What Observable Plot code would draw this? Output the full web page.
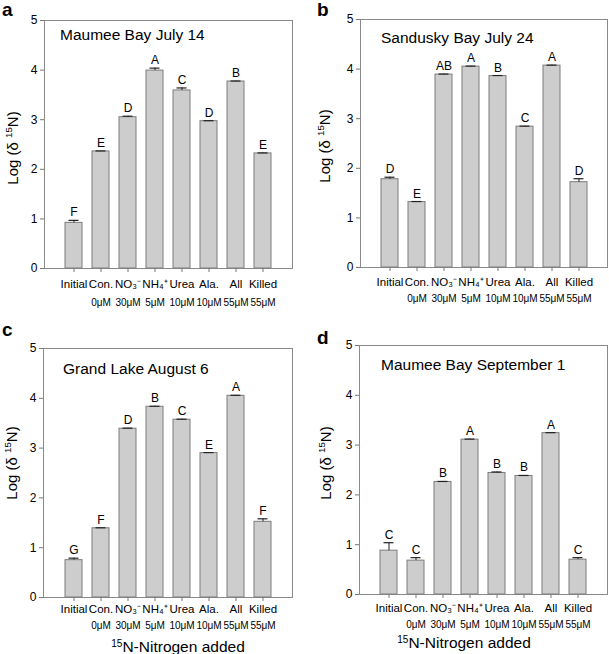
<!DOCTYPE html>
<html>
<head>
<meta charset="utf-8">
<script src="https://cdn.jsdelivr.net/npm/d3@7"></script>
<script src="https://cdn.jsdelivr.net/npm/@observablehq/plot@0.6"></script>
<style>
  html, body { margin: 0; padding: 0; background: #fff; }
  #root { position: relative; width: 609px; height: 654px; font-family: "Liberation Sans", Arial, sans-serif; color: #000; overflow: hidden; }
  .panel { position: absolute; }
  .letter { position: absolute; font-weight: bold; font-size: 19px; line-height: 1.05; }
  .title { position: absolute; font-size: 15.5px; line-height: 1; white-space: nowrap; }
  .ylab { position: absolute; font-size: 15px; white-space: nowrap; transform: translate(-50%, -50%) rotate(-90deg); line-height: 1; }
  .xlab { position: absolute; font-size: 15.5px; white-space: nowrap; transform: translate(-50%, -50%); line-height: 1; }
  sup { font-size: 0.65em; vertical-align: 0.55em; line-height: 0; }
</style>
</head>
<body>
<div id="root"></div>
<script>
const categories = ["Initial", "Con.", "NO₃⁻", "NH₄⁺", "Urea", "Ala.", "All", "Killed"];
const concentrations = ["", "0μM", "30μM", "5μM", "10μM", "10μM", "55μM", "55μM"];
const yTicks = [0, 1, 2, 3, 4, 5];

const valuesA = [0.92, 2.36, 3.05, 3.99, 3.59, 2.97, 3.77, 2.32];
const errorsA = [0.05, 0.01, 0.02, 0.05, 0.05, 0.01, 0.01, 0.01];
const lettersA = ["F", "E", "D", "A", "C", "D", "B", "E"];

const valuesB = [1.78, 1.32, 3.89, 4.05, 3.86, 2.84, 4.07, 1.72];
const errorsB = [0.04, 0.01, 0.01, 0.01, 0.01, 0.01, 0.01, 0.07];
const lettersB = ["D", "E", "AB", "A", "B", "C", "A", "D"];

const valuesC = [0.75, 1.39, 3.39, 3.83, 3.57, 2.90, 4.05, 1.52];
const errorsC = [0.04, 0.01, 0.01, 0.01, 0.01, 0.01, 0.01, 0.06];
const lettersC = ["G", "F", "D", "B", "C", "E", "A", "F"];

const valuesD = [0.88, 0.68, 2.26, 3.11, 2.44, 2.38, 3.24, 0.70];
const errorsD = [0.16, 0.06, 0.01, 0.01, 0.02, 0.01, 0.01, 0.04];
const lettersD = ["C", "C", "B", "A", "B", "B", "A", "C"];

const panels = [
  {letter: "a", title: "Maumee Bay July 14", values: valuesA, errors: errorsA, letters: lettersA,
   left: 0, top: 0, width: 305, height: 320, m: {l: 44, t: 20, r: 13, b: 52},
   letterPos: [2, 0], titlePos: [60, 27], ylabX: 12, ylabY: 148, line1: 16, line2: 34, xlab: false},
  {letter: "b", title: "Sandusky Bay July 24", values: valuesB, errors: errorsB, letters: lettersB,
   left: 305, top: 0, width: 304, height: 320, m: {l: 55, t: 19, r: 2, b: 53},
   letterPos: [12, 0], titlePos: [76, 30], ylabX: 19, ylabY: 146, line1: 15, line2: 31, xlab: false},
  {letter: "c", title: "Grand Lake August 6", values: valuesC, errors: errorsC, letters: lettersC,
   left: 0, top: 320, width: 305, height: 334, m: {l: 43, t: 28, r: 13, b: 57},
   letterPos: [2, 0], titlePos: [63, 41], ylabX: 11, ylabY: 143, line1: 12, line2: 28, xlab: true, xlabX: 178, xlabY: 327},
  {letter: "d", title: "Maumee Bay September 1", values: valuesD, errors: errorsD, letters: lettersD,
   left: 305, top: 320, width: 304, height: 334, m: {l: 54, t: 25, r: 2, b: 60},
   letterPos: [12, 8], titlePos: [76, 37], ylabX: 20, ylabY: 143, line1: 14, line2: 30, xlab: true, xlabX: 159, xlabY: 323}
];

const root = document.getElementById("root");

for (const p of panels) {
  const rows = categories.map((c, i) => ({
    cat: c, conc: concentrations[i], value: p.values[i], top: p.values[i] + p.errors[i], label: p.letters[i]
  }));
  const chart = Plot.plot({
    width: p.width,
    height: p.height,
    marginLeft: p.m.l, marginTop: p.m.t, marginRight: p.m.r, marginBottom: p.m.b,
    style: {fontFamily: '"Liberation Sans", Arial, sans-serif', fontSize: "12px", color: "#000", background: "transparent", overflow: "visible"},
    x: {type: "band", domain: categories, paddingInner: 0.385, paddingOuter: 0.7, label: null, axis: null},
    y: {domain: [0, 5], ticks: yTicks, label: null, axis: null},
    marks: [
      Plot.frame({stroke: "#8a8a8a", strokeWidth: 1}),
      Plot.barY(rows, {x: "cat", y: "value", fill: "#cdcdcd", stroke: "#7c7c7c", strokeWidth: 1}),
      Plot.ruleX(rows, {x: "cat", y1: "value", y2: "top", stroke: "#222", strokeWidth: 1}),
      Plot.tickY(rows, {x: "cat", y: "top", stroke: "#222", strokeWidth: 1.2, insetLeft: 3.5, insetRight: 3.5}),
      Plot.text(rows, {x: "cat", y: "top", text: "label", dy: -4, lineAnchor: "bottom", fontSize: 12, fill: "#000"}),
      Plot.axisY({ticks: yTicks, tickSize: 4, tickPadding: 3, stroke: "#777", label: null, tickFormat: (d) => String(d)}),
      Plot.axisX({tickSize: 4, stroke: "#777", label: null, tickFormat: () => ""}),
      Plot.text(rows, {x: "cat", text: "cat", frameAnchor: "bottom", dy: p.line1, lineAnchor: "middle", fontSize: 11.5, fill: "#000"}),
      Plot.text(rows, {x: "cat", text: "conc", frameAnchor: "bottom", dy: p.line2, lineAnchor: "middle", fontSize: 10, fill: "#000"})
    ]
  });

  const wrap = document.createElement("div");
  wrap.className = "panel";
  wrap.style.left = p.left + "px";
  wrap.style.top = p.top + "px";
  wrap.style.width = p.width + "px";
  wrap.style.height = p.height + "px";
  wrap.appendChild(chart);

  const letter = document.createElement("div");
  letter.className = "letter";
  letter.textContent = p.letter;
  letter.style.left = p.letterPos[0] + "px";
  letter.style.top = p.letterPos[1] + "px";
  wrap.appendChild(letter);

  const title = document.createElement("div");
  title.className = "title";
  title.textContent = p.title;
  title.style.left = p.titlePos[0] + "px";
  title.style.top = p.titlePos[1] + "px";
  wrap.appendChild(title);

  const ylab = document.createElement("div");
  ylab.className = "ylab";
  ylab.innerHTML = "Log (δ <sup>15</sup>N)";
  ylab.style.left = p.ylabX + "px";
  ylab.style.top = p.ylabY + "px";
  wrap.appendChild(ylab);

  if (p.xlab) {
    const xlab = document.createElement("div");
    xlab.className = "xlab";
    xlab.innerHTML = "<sup>15</sup>N-Nitrogen added";
    xlab.style.left = p.xlabX + "px";
    xlab.style.top = p.xlabY + "px";
    wrap.appendChild(xlab);
  }
  root.appendChild(wrap);
}
</script>
</body>
</html>
